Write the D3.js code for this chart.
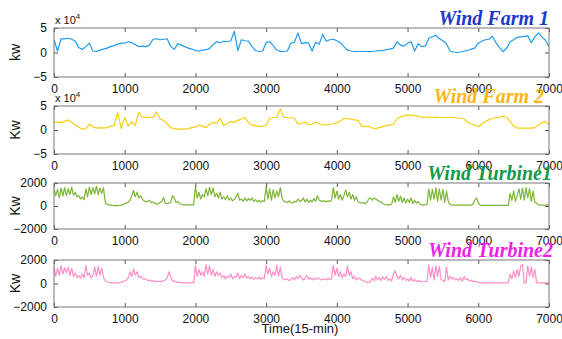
<!DOCTYPE html>
<html>
<head>
<meta charset="utf-8">
<script src="https://cdn.jsdelivr.net/npm/d3@7"></script>
<style>
  body { margin: 0; background: #fff; }
  svg { display: block; }
  text { font-family: Arial, "Liberation Sans", sans-serif; }
</style>
</head>
<body>
<svg id="chart" width="562" height="339"></svg>
<script>
// time axis: samples of 15 minutes
const xTicks = [0, 1000, 2000, 3000, 4000, 5000, 6000, 7000];
const farmTicks = [-5, 0, 5];
const turbineTicks = [-2000, 0, 2000];
const farmStep = 50;
const turbineStep = 25;

// wind farm output, x 10^4 kW, one value every 50 samples
const windFarm1 = [
  2.6, 0.3, 2.8, 2.8, 2.9, 2.7, 2.3, 1.0, 0.6, 1.2,
  1.9, 0.3, 0.2, 0.5, 0.7, 0.9, 1.2, 1.4, 1.7, 1.9,
  1.9, 2.2, 2.0, 1.6, 1.2, 1.3, 1.2, 1.5, 2.7, 2.8,
  2.6, 2.7, 2.8, 1.3, 0.6, 1.8, 1.5, 1.2, 0.9, 0.7,
  0.4, 0.3, 0.5, 0.6, 0.8, 1.6, 2.2, 2.0, 2.3, 2.2,
  2.4, 4.3, 0.4, 2.6, 2.4, 2.3, 1.2, 0.4, 0.2, 0.3,
  2.0, 2.2, 1.4, 0.5, 0.2, 0.2, 0.3, 1.9, 2.1, 4.0,
  1.8, 2.0, 1.9, 0.3, 2.1, 1.7, 3.7, 2.3, 2.6, 2.7,
  2.4, 2.0, 1.2, 0.5, 0.3, 0.2, 0.2, 0.2, 0.2, 0.2,
  0.2, 0.3, 0.4, 0.4, 0.6, 0.7, 0.9, 2.2, 1.5, 1.3,
  1.9, 2.2, 0.3, 1.8, 1.2, 1.3, 2.9, 3.2, 3.5, 2.8,
  2.4, 1.8, 0.3, 0.1, 0.0, 0.1, 0.3, 0.4, 0.7, 0.9,
  1.9, 2.3, 2.6, 2.7, 3.3, 2.0, 1.0, 0.2, 0.8, 2.2,
  2.6, 3.1, 3.2, 3.3, 3.4, 2.0, 3.2, 4.0, 3.2, 2.5,
  1.2
];

const windFarm2 = [
  1.6, 1.7, 1.5, 1.8, 2.1, 1.6, 1.1, 0.6, 0.2, 0.3,
  1.2, 0.7, 0.4, 0.5, 0.4, 0.5, 0.8, 0.9, 3.6, 0.3,
  2.6, 0.8, 1.7, 1.0, 3.7, 2.6, 2.6, 2.7, 2.6, 3.8,
  2.3, 2.0, 1.3, 0.5, 0.3, 0.2, 0.2, 0.2, 0.3, 0.5,
  0.6, 1.0, 0.8, 0.5, 1.2, 1.6, 1.4, 2.4, 0.9, 1.3,
  1.8, 1.6, 2.0, 2.3, 2.6, 1.6, 1.0, 0.9, 0.7, 0.8,
  1.0, 2.4, 2.6, 2.6, 4.4, 2.6, 2.6, 2.5, 2.5, 1.2,
  1.4, 1.6, 1.1, 1.2, 1.6, 1.4, 1.0, 1.1, 1.2, 1.3,
  1.5, 1.8, 2.5, 2.3, 2.3, 2.1, 2.0, 0.8, 0.7, 0.8,
  0.4, 0.3, 0.5, 0.7, 0.9, 1.0, 1.2, 2.4, 2.7, 3.0,
  3.1, 3.1, 3.0, 2.9, 2.7, 2.7, 2.7, 2.6, 2.7, 2.6,
  2.6, 2.6, 2.6, 2.6, 2.5, 2.5, 2.3, 1.6, 1.3, 1.0,
  0.7, 1.2, 1.8, 2.1, 2.4, 2.6, 2.6, 2.9, 2.7, 1.8,
  0.8, 0.4, 0.4, 0.4, 0.4, 0.4, 0.5, 1.0, 1.5, 1.8,
  1.0
];

// single turbine output, kW, one value every 25 samples
const windTurbine1 = [
  1500, 900, 1450, 700, 1550, 850, 1600, 900, 1500, 1000,
  1650, 950, 1200, 800, 900, 600, 800, 550, 1500, 800,
  1650, 1000, 1600, 1050, 1700, 1000, 1550, 1100, 1600, 300,
  150, 100, 80, 50, 40, 30, 40, 50, 80, 100,
  200, 250, 350, 500, 900, 1350, 800, 1200, 700, 900,
  600, 450, 350, 400, 500, 300, 350, 250, 150, 200,
  300, 400, 750, 250, 200, 250, 300, 900, 700, 300,
  400, 200, 150, 100, 100, 90, 90, 100, 90, 100,
  1700, 700, 1200, 600, 1000, 800, 1500, 900, 1650, 1000,
  1550, 800, 1100, 700, 1200, 600, 800, 550, 900, 500,
  700, 450, 600, 800, 1100, 500, 600, 400, 700, 450,
  650, 500, 700, 400, 550, 350, 500, 350, 450, 400,
  1700, 600, 1500, 500, 1400, 700, 1300, 800, 1600, 700,
  400, 350, 300, 450, 300, 250, 400, 350, 600, 400,
  450, 700, 350, 600, 300, 500, 350, 650, 400, 900,
  500, 450, 400, 450, 350, 450, 400, 500, 1600, 700,
  1300, 600, 1000, 500, 900, 1400, 800, 1200, 600, 1000,
  500, 800, 350, 300, 250, 300, 200, 300, 600, 700,
  500, 700, 600, 500, 400, 350, 200, 150, 100, 100,
  100, 150, 800, 300, 1000, 400, 850, 300, 700, 250,
  600, 300, 700, 200, 500, 250, 400, 150, 100, 100,
  100, 150, 1500, 500, 1450, 600, 1550, 400, 1500, 500,
  1450, 300, 1300, 400, 150, 100, 80, 80, 80, 80,
  80, 80, 80, 80, 80, 80, 80, 150, 500, 700,
  300, 80, 50, 50, 50, 50, 50, 50, 50, 50,
  50, 50, 50, 50, 50, 50, 50, 50, 1100, 500,
  1300, 400, 900, 1500, 600, 1550, 500, 1600, 700, 1500,
  400, 1300, 300, 250, 100, 80, 80, 80, 80, 80,
  80
];

const windTurbine2 = [
  1400, 600, 1300, 700, 1500, 800, 1350, 900, 1400, 700,
  1300, 600, 900, 500, 700, 450, 800, 500, 1550, 700,
  900, 450, 700, 1400, 600, 1450, 700, 1300, 500, 250,
  150, 100, 80, 60, 50, 50, 60, 80, 100, 150,
  200, 300, 500, 1000, 600, 1250, 700, 1000, 500, 600,
  450, 350, 400, 250, 300, 200, 250, 150, 200, 150,
  200, 150, 250, 300, 450, 1000, 600, 250, 200, 150,
  100, 100, 80, 60, 60, 50, 50, 60, 50, 60,
  1550, 600, 1200, 700, 1000, 600, 1600, 800, 1500, 700,
  1200, 600, 1000, 700, 900, 500, 700, 400, 600, 500,
  800, 400, 600, 500, 900, 400, 700, 500, 800, 450,
  600, 400, 550, 350, 500, 400, 550, 350, 500, 400,
  1550, 800, 1300, 600, 1000, 700, 1550, 600, 1400, 500,
  350, 300, 400, 250, 350, 500, 300, 600, 400, 700,
  500, 300, 450, 700, 350, 500, 300, 450, 350, 500,
  400, 300, 350, 400, 300, 450, 350, 400, 1550, 700,
  1300, 600, 1000, 500, 800, 600, 1500, 700, 1000, 400,
  600, 300, 500, 400, 300, 250, 150, 100, 100, 150,
  450, 250, 600, 300, 500, 250, 550, 350, 600, 250,
  400, 200, 800, 1100, 600, 400, 700, 300, 500, 250,
  400, 200, 500, 200, 350, 150, 250, 200, 150, 150,
  150, 200, 1600, 500, 1400, 300, 1500, 600, 1450, 300,
  300, 150, 1400, 300, 600, 400, 500, 300, 400, 250,
  500, 200, 600, 300, 400, 200, 300, 150, 200, 150,
  100, 50, 50, 50, 50, 50, 50, 50, 50, 50,
  50, 50, 50, 50, 50, 50, 50, 50, 800, 400,
  1100, 500, 1200, 600, 1500, 1600, 50, 50, 1500, 600,
  1400, 500, 1200, 50, 50, 50, 50, 50, 50, 50,
  50
];

const panels = [
  { title: "Wind Farm 1", values: windFarm1, step: farmStep, ticks: farmTicks, label: "kw", exp: true,
    top: 28, bottom: 77, line: "#1e9bf0", color: "#1a3bc8", titleX: 549, titleY: 25 },
  { title: "Wind Farm 2", values: windFarm2, step: farmStep, ticks: farmTicks, label: "Kw", exp: true,
    top: 106, bottom: 154, line: "#f5cf10", color: "#fcb514", titleX: 544, titleY: 103 },
  { title: "Wind Turbine1", values: windTurbine1, step: turbineStep, ticks: turbineTicks, label: "Kw", exp: false,
    top: 183, bottom: 229, line: "#7ab535", color: "#14994a", titleX: 552, titleY: 180 },
  { title: "Wind Turbine2", values: windTurbine2, step: turbineStep, ticks: turbineTicks, label: "Kw", exp: false,
    top: 260, bottom: 307, line: "#ff8ec6", color: "#f01ee6", titleX: 553, titleY: 257 }
];

const left = 54, right = 549;
const svg = d3.select("#chart");

const x = d3.scaleLinear().domain([0, 7000]).range([left, right]);

panels.forEach(p => {
  const y = d3.scaleLinear()
    .domain([p.ticks[0], p.ticks[p.ticks.length - 1]])
    .range([p.bottom, p.top]);

  const g = svg.append("g");

  // the data line, clipped to the box
  const clipId = "clip" + p.top;
  g.append("clipPath").attr("id", clipId)
    .append("rect")
    .attr("x", left).attr("y", p.top)
    .attr("width", right - left).attr("height", p.bottom - p.top);

  const line = d3.line()
    .x((d, i) => x(i * p.step))
    .y(d => y(d));

  g.append("path")
    .datum(p.values)
    .attr("clip-path", "url(#" + clipId + ")")
    .attr("fill", "none")
    .attr("stroke", p.line)
    .attr("stroke-width", 1.2)
    .attr("stroke-linejoin", "round")
    .attr("d", line);

  // axes, matlab style ticks pointing inward
  const bottomAxis = g.append("g")
    .attr("transform", "translate(0," + p.bottom + ")")
    .call(d3.axisBottom(x).tickValues(xTicks).tickSizeInner(-4).tickSizeOuter(0).tickPadding(7).tickFormat(d3.format("d")));
  const topAxis = g.append("g")
    .attr("transform", "translate(0," + p.top + ")")
    .call(d3.axisTop(x).tickValues(xTicks).tickSizeInner(-4).tickSizeOuter(0).tickFormat(""));
  const leftAxis = g.append("g")
    .attr("transform", "translate(" + left + ",0)")
    .call(d3.axisLeft(y).tickValues(p.ticks).tickSizeInner(-4).tickSizeOuter(0).tickPadding(7).tickFormat(d3.format("d")));
  const rightAxis = g.append("g")
    .attr("transform", "translate(" + right + ",0)")
    .call(d3.axisRight(y).tickValues(p.ticks).tickSizeInner(-4).tickSizeOuter(0).tickFormat(""));

  [bottomAxis, topAxis, leftAxis, rightAxis].forEach(a => {
    a.select(".domain").remove();
    a.selectAll(".tick line").attr("stroke", "#555");
    a.selectAll(".tick text").attr("fill", "#111").style("font-size", "12px");
  });

  g.append("rect")
    .attr("x", left).attr("y", p.top)
    .attr("width", right - left).attr("height", p.bottom - p.top)
    .attr("fill", "none")
    .attr("stroke", "#777")
    .attr("stroke-width", 1);

  // y label
  g.append("text")
    .attr("transform", "translate(20," + ((p.top + p.bottom) / 2) + ") rotate(-90)")
    .attr("text-anchor", "middle")
    .style("font-size", "14px")
    .attr("fill", "#111")
    .text(p.label);

  if (p.exp) {
    const e = g.append("text")
      .attr("x", left + 1).attr("y", p.top - 4)
      .style("font-size", "11px")
      .attr("fill", "#111");
    e.append("tspan").text("x 10");
    e.append("tspan").attr("dy", -5).style("font-size", "8px").text("4");
  }

  g.append("text")
    .attr("x", p.titleX).attr("y", p.titleY)
    .attr("text-anchor", "end")
    .style("font-family", "'Liberation Serif', 'Times New Roman', serif")
    .style("font-weight", "bold")
    .style("font-style", "italic")
    .style("font-size", "20px")
    .attr("fill", p.color)
    .text(p.title);
});

svg.append("text")
  .attr("x", 300).attr("y", 333)
  .attr("text-anchor", "middle")
  .style("font-size", "13px")
  .attr("fill", "#111")
  .text("Time(15-min)");
</script>
</body>
</html>
